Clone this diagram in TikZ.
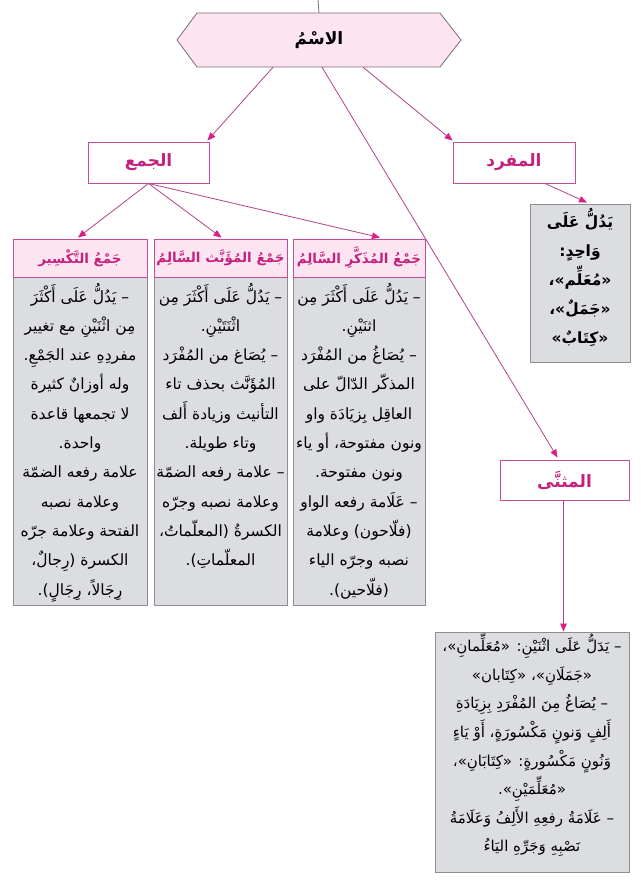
\documentclass[tikz,border=0pt]{standalone}
\usepackage{fontspec}
\newfontfamily\arabicfont[Script=Arabic]{DejaVu Sans}
\TeXXeTstate=1
\usetikzlibrary{arrows.meta,calc}
\definecolor{magtext}{HTML}{C4217F}
\definecolor{catedge}{HTML}{C54C98}
\definecolor{linecol}{HTML}{B2438A}
\definecolor{arrowcol}{HTML}{DB1E86}
\definecolor{pinkfill}{HTML}{FCE5F1}
\definecolor{graybody}{HTML}{DCDDE1}
\definecolor{grayedge}{HTML}{8E8E92}
\definecolor{hexedge}{HTML}{80697A}
\newcommand{\ar}[1]{\beginR #1\endR}
\tikzset{
  catbox/.style={draw=catedge, line width=0.9pt, fill=white, inner sep=0pt, text=magtext,
    font=\arabicfont\bfseries\fontsize{17}{20}\selectfont},
  titlebar/.style={draw=catedge, line width=0.9pt, fill=pinkfill, inner sep=0pt, text=magtext,
    minimum height=38pt, font=\arabicfont\bfseries\fontsize{13.5}{16}\selectfont},
  bodybox/.style={draw=grayedge, line width=0.9pt, fill=graybody, inner sep=0pt},
  bodytext/.style={anchor=north, align=center, inner sep=0pt,
    font=\arabicfont\fontsize{15.5}{29.3}\selectfont},
  conn/.style={draw=linecol, line width=0.8pt,
    -{Triangle[length=8pt,width=6.5pt,color=arrowcol]}},
}
\begin{document}
\begin{tikzpicture}[x=1pt,y=-1pt]
\fill[white] (0,0) rectangle (640,880);
\useasboundingbox (0,0) rectangle (640,880);

% hexagon
\draw[hexedge, line width=0.8pt, fill=pinkfill]
  (177,40) -- (197,13) -- (440,13) -- (461,40) -- (440,67) -- (197,67) -- cycle;
\node[minimum width=284pt, minimum height=54pt, inner sep=0pt,
  font=\arabicfont\bfseries\fontsize{17}{20}\selectfont] (ism) at (319,40) {\ar{الاسْمُ}};
\coordinate (topend) at (318,0);
\draw[hexedge, line width=0.8pt] (ism.north) -- (topend);

% category boxes
\node[catbox, minimum width=121pt, minimum height=41pt] (jam) at (148.5,162.5) {\ar{الجمع}};
\node[catbox, minimum width=122pt, minimum height=41pt] (mufrad) at (514,162.5) {\ar{المفرد}};
\node[catbox, minimum width=129pt, minimum height=40pt] (muth) at (564.5,480) {\ar{المثنَّى}};

% column bodies
\node[bodybox, minimum width=134pt, minimum height=328pt] (b1) at (80,441) {};
\node[bodybox, minimum width=133pt, minimum height=328pt] (b2) at (220.5,441) {};
\node[bodybox, minimum width=132pt, minimum height=328pt] (b3) at (359,441) {};

% column titles
\node[titlebar, minimum width=134pt] (h1) at (80,258) {\ar{جَمْعُ التَّكْسِير}};
\node[titlebar, minimum width=133pt] (h2) at (220.5,258) {\ar{جَمْعُ المُؤَنَّث السَّالِمُ}};
\node[titlebar, minimum width=132pt] (h3) at (359,258) {\ar{جَمْعُ المُذَكَّرِ السَّالِمُ}};

% column texts
\node[bodytext] (t1) at (80,283) {%
\ar{– يَدُلُّ عَلَى أَكْثَرَ}\\
\ar{مِن اثْنَيْنِ مع تغيير}\\
\ar{مفردِهِ عند الجَمْعِ.}\\
\ar{وله أوزانٌ كثيرة}\\
\ar{لا تجمعها قاعدة}\\
\ar{واحدة.}\\
\ar{علامة رفعه الضمّة}\\
\ar{وعلامة نصبه}\\
\ar{الفتحة وعلامة جرّه}\\
\ar{الكسرة (رِجالٌ،}\\
\ar{رِجَالاً، رِجَالٍ).}};

\node[bodytext] (t2) at (220.5,283) {%
\ar{– يَدُلُّ عَلَى أَكْثَرَ مِن}\\
\ar{اثْنَتَيْنِ.}\\
\ar{– يُصَاغ من المُفْرَد}\\
\ar{المُؤَنَّث بحذف تاء}\\
\ar{التأنيث وزيادة أَلف}\\
\ar{وتاء طويلة.}\\
\ar{– علامة رفعه الضمّة}\\
\ar{وعلامة نصبه وجرّه}\\
\ar{الكسرةُ (المعلّماتُ،}\\
\ar{المعلّماتِ).}};

\node[bodytext] (t3) at (359,283) {%
\ar{– يَدُلُّ عَلَى أَكْثَرَ مِن}\\
\ar{اثنَيْنِ.}\\
\ar{– يُصَاغُ من المُفْرَد}\\
\ar{المذكّر الدّالّ على}\\
\ar{العاقِل بِزيَادَة واو}\\
\ar{ونون مفتوحة، أو ياء}\\
\ar{ونون مفتوحة.}\\
\ar{– عَلَامة رفعه الواو}\\
\ar{(فلّاحون) وعلامة}\\
\ar{نصبه وجرّه الياء}\\
\ar{(فلّاحين).}};

% mufrad definition
\node[bodybox, minimum width=100pt, minimum height=158pt] (def) at (580,283) {};
\node[bodytext, font=\arabicfont\bfseries\fontsize{15.5}{29}\selectfont] (tdef) at (580,208) {%
\ar{يَدُلُّ عَلَى}\\
\ar{وَاحِدٍ:}\\
\ar{«مُعَلِّم»،}\\
\ar{«جَمَلٌ»،}\\
\ar{«كِتَابٌ»}};

% muthanna definition
\node[bodybox, minimum width=194pt, minimum height=240pt] (bot) at (532,752) {};
\node[bodytext, font=\arabicfont\fontsize{15}{28.6}\selectfont] (tbot) at (532,633) {%
\ar{– يَدَلُّ عَلَى اثْنَيْنِ: «مُعَلِّمانِ»،}\\
\ar{«جَمَلَانِ»، «كِتَابان»}\\
\ar{– يُصَاغُ مِنَ المُفْرَدِ بِزِيَادَةِ}\\
\ar{أَلِفٍ وَنونٍ مَكْسُورَةٍ، أَوْ يَاءٍ}\\
\ar{وَنُونٍ مَكْسُورةٍ: «كِتَابَانِ»،}\\
\ar{«مُعَلِّمَيْنِ».}\\
\ar{– عَلَامَةُ رفعِهِ الأَلِفُ وَعَلَامَةُ}\\
\ar{نَصْبِهِ وَجَرِّهِ اليَاءُ}};

% connectors
\draw[conn] ([xshift=-46pt]ism.south) -- ([xshift=-2pt,yshift=1pt]jam.north east);
\draw[conn] ([xshift=44pt]ism.south) -- ([yshift=1pt]mufrad.north west);
\draw[conn] ([xshift=3pt]ism.south) -- ([xshift=-7pt,yshift=2pt]muth.north);
\draw[conn] ([xshift=31pt]mufrad.south) -- ([xshift=7pt,yshift=1pt]def.north);
\draw[conn] (jam.south) -- ([xshift=-2pt,yshift=1pt]h1.north);
\draw[conn] (jam.south) -- ([xshift=1pt,yshift=1pt]h2.north);
\draw[conn] (jam.south) -- ([xshift=21pt,yshift=1pt]h3.north);
\draw[conn] ([xshift=-1pt]muth.south) -- ([xshift=-1pt]muth.south |- bot.north);
\end{tikzpicture}
\end{document}
